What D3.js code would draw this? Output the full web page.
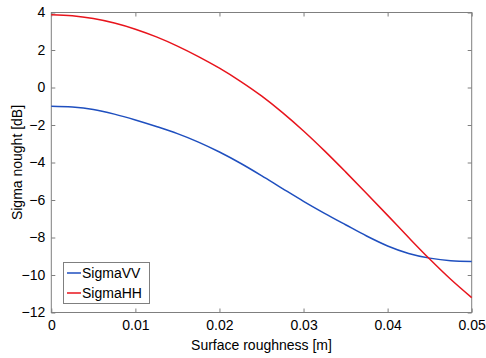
<!DOCTYPE html>
<html><head><meta charset="utf-8">
<script src="https://cdn.jsdelivr.net/npm/d3@7"></script>
<style>body{margin:0;background:#fff}svg{display:block}</style>
</head><body>
<script>
const xValues = [0, 0.0025, 0.005, 0.0075, 0.01, 0.0125, 0.015, 0.0175, 0.02, 0.0225, 0.025, 0.0275, 0.03, 0.0325, 0.035, 0.0375, 0.04, 0.0425, 0.045, 0.0475, 0.05];
const sigmaVV = [-1.0, -1.04, -1.17, -1.42, -1.73, -2.08, -2.46, -2.91, -3.44, -4.04, -4.70, -5.39, -6.07, -6.71, -7.32, -7.92, -8.45, -8.85, -9.10, -9.24, -9.28];
const sigmaHH = [3.88, 3.83, 3.68, 3.44, 3.11, 2.70, 2.21, 1.65, 1.03, 0.33, -0.45, -1.34, -2.32, -3.38, -4.50, -5.65, -6.82, -8.00, -9.15, -10.23, -11.21];
const xTicks = [0, 0.01, 0.02, 0.03, 0.04, 0.05];
const yTicks = [-12, -10, -8, -6, -4, -2, 0, 2, 4];
const seriesNames = ["SigmaVV", "SigmaHH"];
const seriesColors = ["#1f4fbf", "#e8141c"];

const W = 486, H = 358;
const L = 51.3, R = 471.7, T = 12.5, B = 312.5;
const svg = d3.select("body").append("svg").attr("width", W).attr("height", H)
  .style("font-family", "'Liberation Sans', Arial, Helvetica, sans-serif");
const x = d3.scaleLinear().domain([0, 0.05]).range([L, R]);
const y = d3.scaleLinear().domain([-12, 4]).range([B, T]);
const axisColor = "#7f7f7f";

// frame
svg.append("rect").attr("x", L).attr("y", T).attr("width", R - L).attr("height", B - T)
  .attr("fill", "#fff").attr("stroke", axisColor).attr("stroke-width", 1);

const fmtX = d => d === 0 ? "0" : d3.format(".2f")(d);
function styleAxis(g) {
  g.select(".domain").remove();
  g.selectAll(".tick line").attr("stroke", axisColor);
  g.selectAll(".tick text").attr("fill", "#000").style("font-size", "14px");
}
svg.append("g").attr("transform", `translate(0,${B})`)
  .call(d3.axisBottom(x).tickValues(xTicks).tickFormat(fmtX).tickSize(-4).tickPadding(8))
  .call(styleAxis);
svg.append("g").attr("transform", `translate(0,${T})`)
  .call(d3.axisTop(x).tickValues(xTicks).tickFormat("").tickSize(-4))
  .call(styleAxis);
svg.append("g").attr("transform", `translate(${L},0)`)
  .call(d3.axisLeft(y).tickValues(yTicks).tickSize(-4).tickPadding(6))
  .call(styleAxis);
svg.append("g").attr("transform", `translate(${R},0)`)
  .call(d3.axisRight(y).tickValues(yTicks).tickFormat("").tickSize(-4))
  .call(styleAxis);

// axis labels
svg.append("text").attr("x", (L + R) / 2).attr("y", 350).attr("text-anchor", "middle")
  .style("font-size", "14px").text("Surface roughness [m]");
svg.append("text").attr("transform", `translate(22,${(T + B) / 2}) rotate(-90)`)
  .attr("text-anchor", "middle").style("font-size", "14px").text("Sigma nought [dB]");

// lines
const line = d3.line().x((d, i) => x(xValues[i])).y(d => y(d)).curve(d3.curveMonotoneX);
[sigmaVV, sigmaHH].forEach((s, k) => {
  svg.append("path").datum(s).attr("d", line).attr("fill", "none")
    .attr("stroke", seriesColors[k]).attr("stroke-width", 1.5);
});

// legend
const lg = svg.append("g");
lg.append("rect").attr("x", 63.5).attr("y", 262.5).attr("width", 86).attr("height", 41)
  .attr("fill", "#fff").attr("stroke", axisColor);
seriesNames.forEach((n, k) => {
  const yy = 273 + k * 20;
  lg.append("line").attr("x1", 67).attr("x2", 81).attr("y1", yy).attr("y2", yy)
    .attr("stroke", seriesColors[k]).attr("stroke-width", 1.5);
  lg.append("text").attr("x", 82).attr("y", yy + 5).style("font-size", "14px").text(n);
});
</script>
</body></html>
